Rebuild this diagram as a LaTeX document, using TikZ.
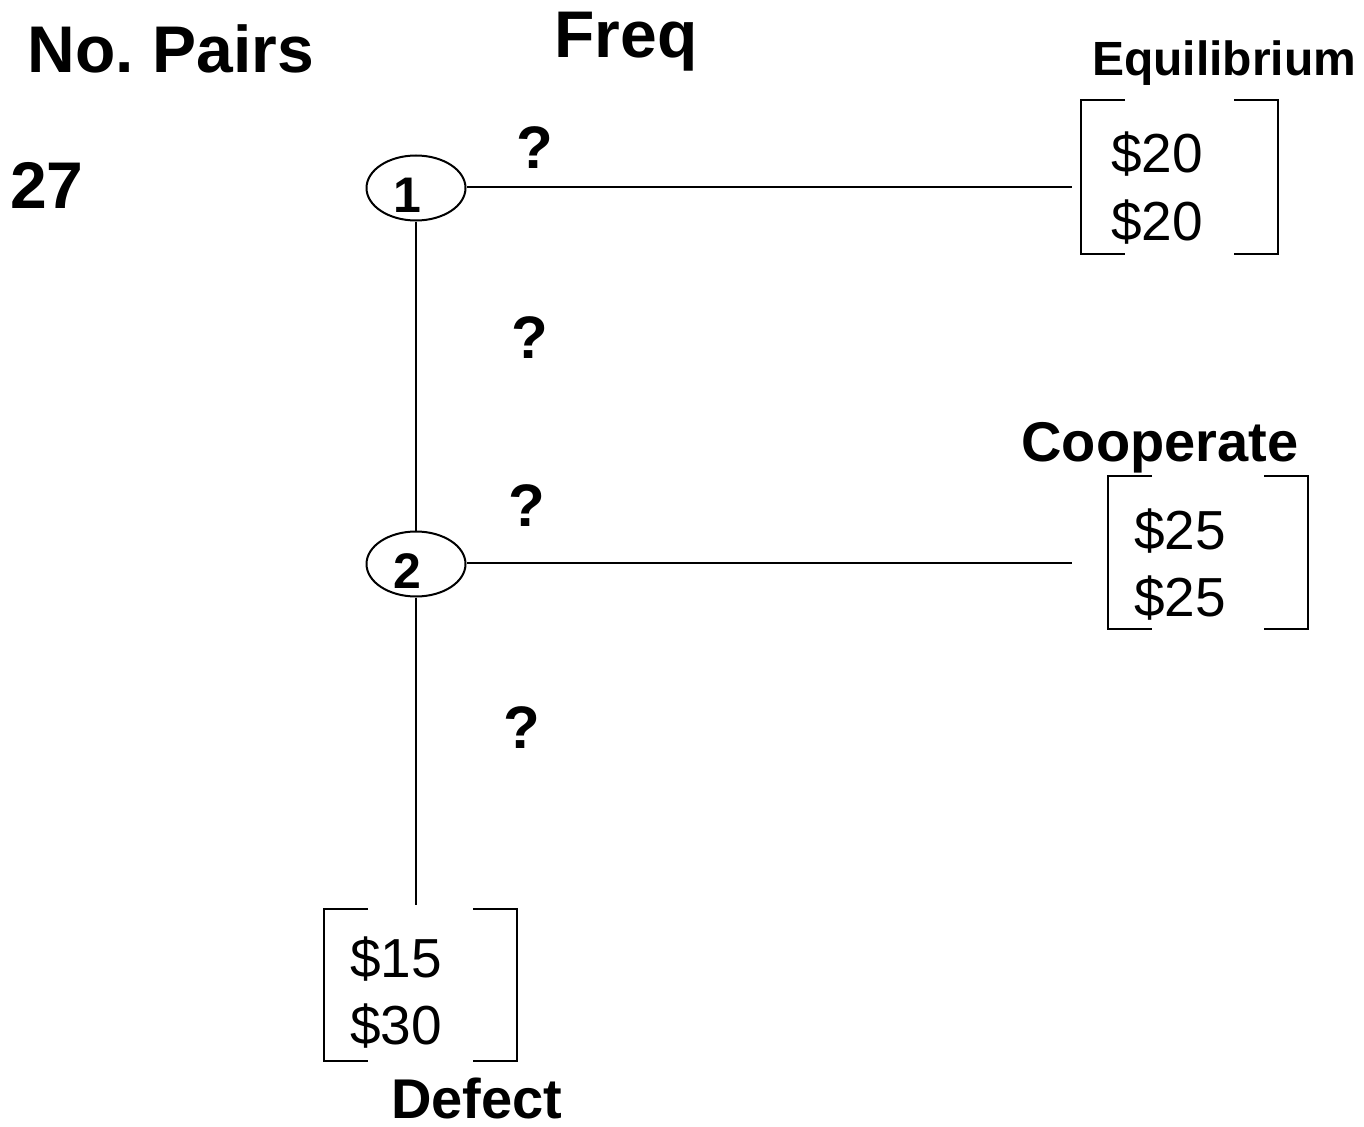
\documentclass[tikz,border=0pt]{standalone}
\usepackage{fontspec}
\setmainfont{Liberation Sans}
\usetikzlibrary{shapes.geometric}
\tikzset{
  line/.style={line width=2pt, black},
  decision/.style={ellipse, draw, line width=2pt, minimum width=99pt, minimum height=65pt, inner sep=0pt},
  numlbl/.style={font=\fontsize{50}{50}\selectfont\bfseries, inner sep=0pt},
  head/.style={font=\fontsize{66}{66}\selectfont\bfseries, inner sep=0pt},
  outcome/.style={font=\fontsize{48}{48}\selectfont\bfseries, inner sep=0pt},
  outcomebig/.style={font=\fontsize{56}{56}\selectfont\bfseries, inner sep=0pt},
  query/.style={font=\fontsize{60}{60}\selectfont\bfseries, inner sep=0pt},
  pay/.style={font=\fontsize{55}{55}\selectfont, inner sep=0pt, anchor=base west},
}
% A payoff bracket: left/right vertical strokes with short arms
\newcommand{\paybracket}[4]{% x1, y1, x2, y2
  \draw[line] (#1+44,#2) -- (#1,#2) -- (#1,#4) -- (#1+44,#4);
  \draw[line] (#3-44,#2) -- (#3,#2) -- (#3,#4) -- (#3-44,#4);
}
\begin{document}
\begin{tikzpicture}[x=1pt,y=-1pt]
  \useasboundingbox (0,0) rectangle (1364,1126);

  % column headings
  \node[head, anchor=base] (pairs) at (171,73) {No.\ Pairs};
  \node[head, anchor=base] (freq) at (626,58) {Freq};
  \node[head, anchor=base] (count) at (47,208) {27};

  % decision nodes
  \node[decision] (n1) at (416,188) {};
  \node[numlbl, anchor=base] (l1) at (407,212) {1};
  \node[decision] (n2) at (416,564) {};
  \node[numlbl, anchor=base] (l2) at (407,588) {2};

  % branch end points
  \coordinate (e1) at (1072,187);
  \coordinate (e2) at (1072,563);
  \coordinate (e3) at (416,905);

  \draw[line] (n1.east |- e1) -- (e1);
  \draw[line] (n1) -- (n2);
  \draw[line] (n2.east |- e2) -- (e2);
  \draw[line] (n2) -- (e3);

  % frequency placeholders
  \node[query] (q1) at (535,148) {?};
  \node[query] (q2) at (530,338) {?};
  \node[query] (q3) at (527,506) {?};
  \node[query] (q4) at (522,728) {?};

  % outcomes
  \node[outcome, anchor=base] (eq) at (1224,76) {Equilibrium};
  \paybracket{1081}{100}{1278}{254}
  \node[pay] (eqa) at (1111,173) {\$20};
  \node[pay] (eqb) at (1111,240) {\$20};

  \node[outcomebig, anchor=base] (coop) at (1160,461) {Cooperate};
  \paybracket{1108}{476}{1308}{629}
  \node[pay] (coa) at (1134,549) {\$25};
  \node[pay] (cob) at (1134,616) {\$25};

  \node[outcomebig, anchor=base] (def) at (477,1118) {Defect};
  \paybracket{324}{909}{517}{1061}
  \node[pay] (dfa) at (350,977) {\$15};
  \node[pay] (dfb) at (350,1044) {\$30};
\end{tikzpicture}
\end{document}
